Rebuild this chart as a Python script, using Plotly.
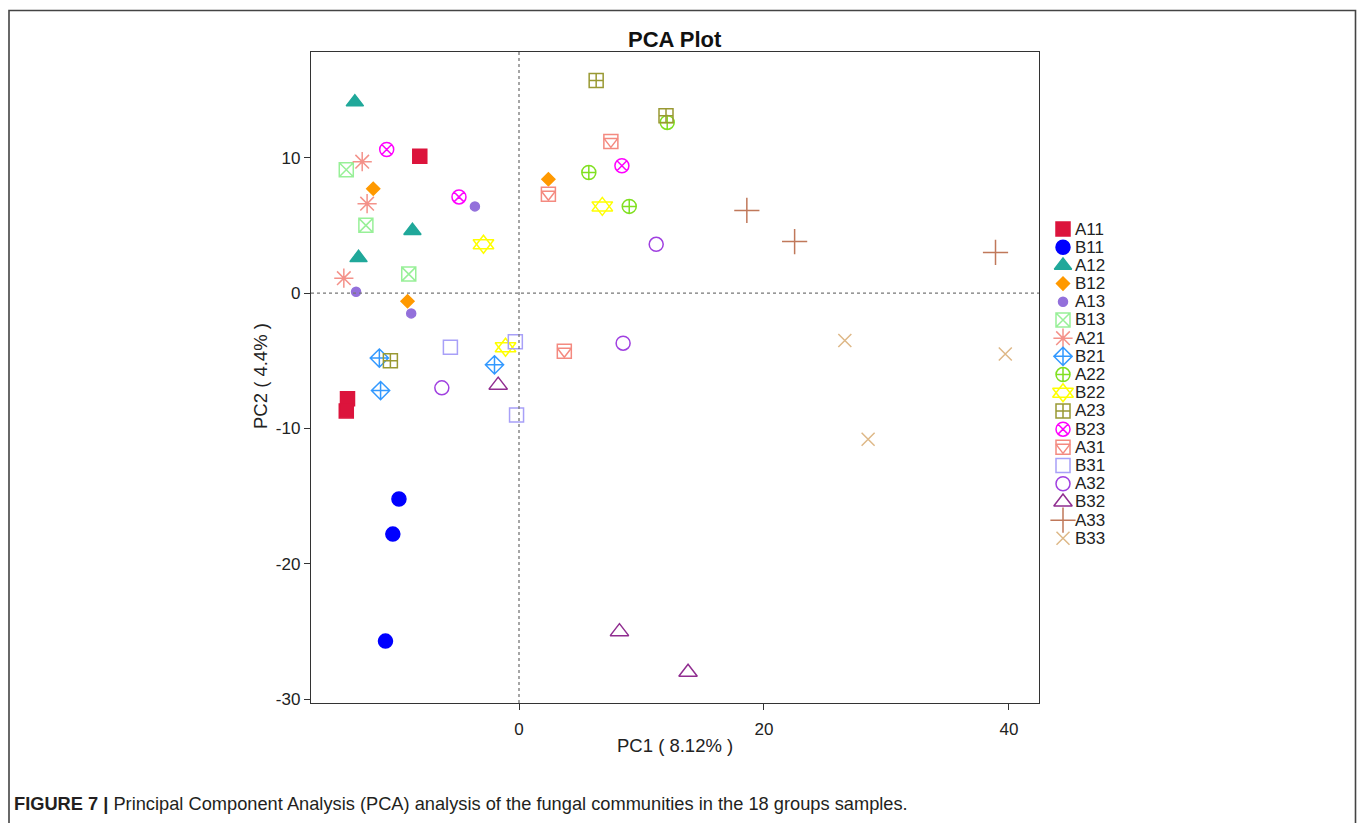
import plotly.graph_objects as go

# ---------------- data ----------------
groups = ["A11", "B11", "A12", "B12", "A13", "B13", "A21", "B21", "A22",
          "B22", "A23", "B23", "A31", "B31", "A32", "B32", "A33", "B33"]

pc1 = [
    [-8.1, -14.0, -14.1],      # A11
    [-9.8, -10.3, -10.9],      # B11
    [-13.4, -8.7, -13.1],      # A12
    [-11.9, 2.4, -9.1],        # B12
    [-3.6, -13.3, -8.8],       # A13
    [-14.1, -12.5, -9.0],      # B13
    [-12.8, -12.4, -14.3],     # A21
    [-11.4, -11.3, -2.0],      # B21
    [5.7, 9.0, 12.1],          # A22
    [-2.9, 6.8, -1.1],         # B22
    [6.3, 12.0, -10.5],        # A23
    [-10.8, -4.9, 8.4],        # B23
    [2.4, 7.5, 3.7],           # A31
    [-5.6, -0.3, -0.2],        # B31
    [-6.3, 11.2, 8.5],         # A32
    [-1.7, 8.2, 13.8],         # B32
    [18.6, 22.5, 38.9],        # A33
    [26.6, 28.5, 39.7],        # B33
]

pc2 = [
    [10.1, -7.8, -8.7],        # A11
    [-15.2, -17.8, -25.7],     # B11
    [14.1, 4.6, 2.6],          # A12
    [7.7, 8.4, -0.6],          # B12
    [6.4, 0.1, -1.5],          # A13
    [9.1, 5.0, 1.4],           # B13
    [9.7, 6.6, 1.1],           # A21
    [-4.8, -7.2, -5.3],        # B21
    [8.9, 6.4, 12.6],          # A22
    [3.6, 6.4, -4.0],          # B22
    [15.7, 13.1, -5.0],        # A23
    [10.6, 7.1, 9.4],          # B23
    [7.3, 11.2, -4.3],         # A31
    [-4.0, -3.6, -9.0],        # B31
    [-7.0, 3.6, -3.7],         # A32
    [-6.8, -25.0, -28.0],      # B32
    [6.1, 3.8, 3.0],           # A33
    [-3.5, -10.8, -4.5],       # B33
]

x_ticks = [0, 20, 40]
y_ticks = [-30, -20, -10, 0, 10]
x_tick_labels = ["0", "20", "40"]
y_tick_labels = ["-30", "-20", "-10", "0", "10"]

# ---------------- styles ----------------
colors = ["#DC143C", "#0000FF", "#20A89A", "#FF9900", "#9370DB", "#98F098",
          "#F4928A", "#3399FF", "#80E020", "#FFFF00", "#999933", "#FF00FF",
          "#F48A80", "#A8A0F8", "#A040E0", "#902D90", "#C0785A", "#DEB887"]
# each group may be drawn by one or two superimposed symbols
symbols = [["square"], ["circle"], ["triangle-up"], ["diamond"], ["circle"],
           ["square-x-open"], ["asterisk-open"], ["diamond-cross-open"],
           ["circle-cross-open"], ["triangle-up-open", "triangle-down-open"],
           ["square-cross-open"], ["circle-x-open"],
           ["square-open", "triangle-down-open"], ["square-open"],
           ["circle-open"], ["triangle-up-open"], ["cross-thin-open"],
           ["x-thin-open"]]
sizes = [[14], [14], [15], [10], [9], [14], [16], [14], [14], [18, 18], [14],
         [14], [14, 12], [14], [14], [16], [18], [13]]

W, H = 1358, 823
L, R, T, B = 311, 1039, 52, 703   # plot area in page pixels


def fx(p):
    return p / W


def fy(p):
    return 1 - p / H


FONT = "Liberation Sans, Arial, Helvetica"

fig = go.Figure()
for i, g in enumerate(groups):
    for s, sz in zip(symbols[i], sizes[i]):
        fig.add_trace(go.Scatter(
            x=pc1[i], y=pc2[i], mode="markers", name=g, showlegend=False,
            marker=dict(symbol=s, size=sz, color=colors[i],
                        line=dict(color=colors[i], width=1.5)),
            xaxis="x", yaxis="y",
        ))
        # legend entry (legend drawn on its own hidden axes, one row per group)
        fig.add_trace(go.Scatter(
            x=[0], y=[i], mode="markers", showlegend=False, hoverinfo="skip",
            marker=dict(symbol=s, size=sz, color=colors[i],
                        line=dict(color=colors[i], width=1.5)),
            xaxis="x2", yaxis="y2",
        ))
    fig.add_annotation(text=g, xref="x2", yref="y2", x=0, y=i, xshift=10,
                       xanchor="left", yanchor="middle", showarrow=False,
                       font=dict(family=FONT, size=17, color="#222222"))

axis_common = dict(
    showgrid=False, zeroline=False, showline=True, linecolor="#333333",
    linewidth=1.3, mirror=True, ticks="outside", ticklen=6, tickwidth=1.3,
    tickcolor="#333333", tickfont=dict(family=FONT, size=17, color="#222222"),
    automargin=False,
)

fig.update_layout(
    width=W, height=H,
    margin=dict(l=0, r=0, t=0, b=0, pad=0, autoexpand=False),
    paper_bgcolor="white", plot_bgcolor="white",
    font=dict(family=FONT, color="#222222"),
    showlegend=False,
    xaxis=dict(domain=[fx(L), fx(R)], range=[-16.98, 42.45], tickvals=x_ticks,
               ticktext=x_tick_labels, ticklabelstandoff=4, **axis_common),
    yaxis=dict(domain=[fy(B), fy(T)], range=[-30.27, 17.8],
               tickvals=y_ticks, ticktext=y_tick_labels, **axis_common),
    xaxis2=dict(domain=[fx(1050), fx(1130)], range=[-13, 67], visible=False,
                anchor="y2", fixedrange=True, automargin=False),
    yaxis2=dict(domain=[fy(568), fy(208)], range=[18.63, -1.154], visible=False,
                anchor="x2", fixedrange=True, automargin=False),
)

# reference lines at zero (dotted)
fig.add_shape(type="line", xref="x", yref="y domain", x0=0, x1=0, y0=0, y1=1,
              line=dict(color="#777777", width=1.3, dash="dot"))
fig.add_shape(type="line", xref="x domain", yref="y", x0=0, x1=1, y0=0, y1=0,
              line=dict(color="#777777", width=1.3, dash="dot"))

# outer figure frame
fig.add_shape(type="path", xref="paper", yref="paper",
              path=f"M {fx(9)},{fy(830)} L {fx(9)},{fy(10.5)} "
                   f"L {fx(1355.5)},{fy(10.5)} L {fx(1355.5)},{fy(830)}",
              line=dict(color="#444444", width=1.6))

# title and axis titles
fig.add_annotation(text="<b>PCA Plot</b>", xref="paper", yref="paper",
                   x=fx(675), y=fy(40), xanchor="center", yanchor="middle",
                   showarrow=False,
                   font=dict(family=FONT, size=22, color="#111111"))
fig.add_annotation(text="PC1 ( 8.12% )", xref="paper", yref="paper",
                   x=fx(675), y=fy(745), xanchor="center", yanchor="middle",
                   showarrow=False,
                   font=dict(family=FONT, size=18.5, color="#222222"))
fig.add_annotation(text="PC2 ( 4.4% )", xref="paper", yref="paper",
                   x=fx(260), y=fy(376), xanchor="center", yanchor="middle",
                   showarrow=False, textangle=-90,
                   font=dict(family=FONT, size=18.5, color="#222222"))

# caption
fig.add_annotation(
    text="<b>FIGURE 7 |</b> Principal Component Analysis (PCA) analysis of the fungal "
         "communities in the 18 groups samples.",
    xref="paper", yref="paper", x=fx(12), y=fy(803), xanchor="left",
    yanchor="middle", showarrow=False,
    font=dict(family=FONT, size=18.25, color="#231F20"))

fig.write_html(
    "out.html",
    config={"displayModeBar": False},
    post_script="document.body.style.margin='0';"
                "document.documentElement.style.overflow='hidden';"
                "document.body.style.overflow='hidden';",
)
